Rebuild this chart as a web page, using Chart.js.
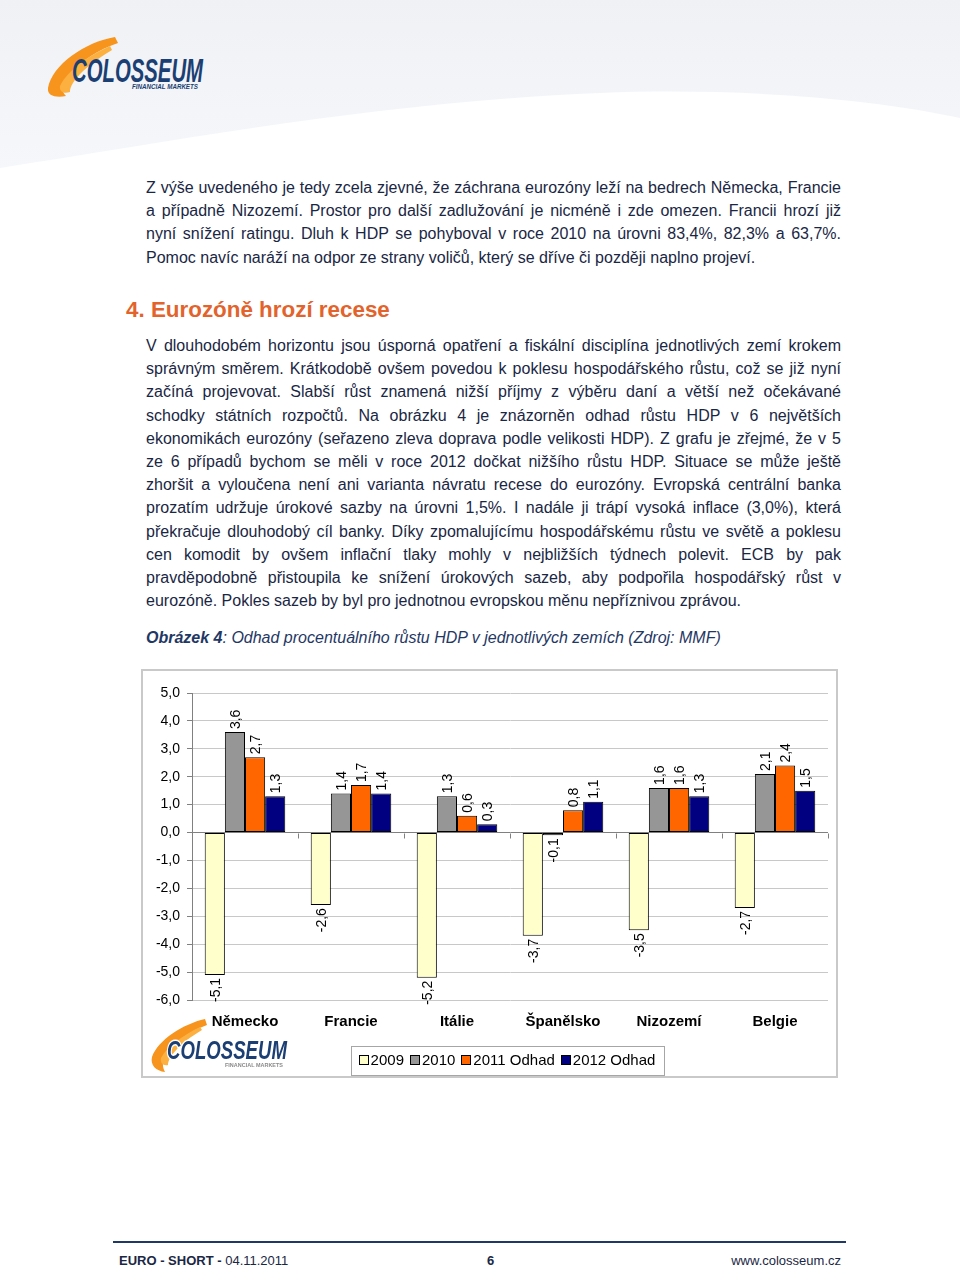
<!DOCTYPE html>
<html>
<head>
<meta charset="utf-8">
<script src="https://cdn.jsdelivr.net/npm/chart.js@4.4.0/dist/chart.umd.min.js"></script>
<style>
  html, body { margin: 0; padding: 0; }
  body { width: 960px; height: 1271px; position: relative; overflow: hidden; background: #fff;
         font-family: "Liberation Sans", Arial, sans-serif; color: #1a2744; }
  .abs { position: absolute; }
  .para { position: absolute; left: 146px; width: 695px; font-size: 16px; line-height: 23.2px; }
  .para div { text-align: justify; text-align-last: justify; white-space: nowrap; }
  .para div.last { text-align-last: left; }
  h2 { position: absolute; left: 126px; top: 297px; margin: 0; font-size: 22.4px; color: #e2632b; font-weight: bold; }
  .caption { position: absolute; left: 146px; top: 629px; font-size: 16px; font-style: italic; color: #1f3864; }
  #box { position: absolute; left: 141px; top: 669px; width: 697px; height: 409px; border: 2px solid #c9c9c9; box-sizing: border-box; }
  .footer { position: absolute; top: 1253px; font-size: 13px; line-height: 16px; color: #1a2744; }
</style>
</head>
<body>

<svg class="abs" style="left:0;top:0" width="960" height="180">
  <defs>
    <linearGradient id="bgGrad" x1="0" y1="0" x2="0" y2="1">
      <stop offset="0" stop-color="#eff1f5"/>
      <stop offset="1" stop-color="#f5f7fa"/>
    </linearGradient>
  </defs>
  <path d="M0,0 H960 V118 C860,96 720,88 600,93 C380,102 180,140 0,168 Z" fill="url(#bgGrad)"/>
</svg>

<!-- header logo -->
<svg class="abs" style="left:40px;top:30px" width="180" height="75">
  <path d="M75,7 C45,12 12,35 8,58 C7,66 16,68 26,66 C20,60 22,52 30,44 C42,30 58,20 78,13 Z" fill="#f7941d"/>
  <path d="M70,16 C48,26 28,40 20,56 C19,62 24,64 30,62 C30,52 45,36 72,20 Z" fill="#fbb040"/>
  <text x="32" y="52" font-family="Liberation Sans, Arial" font-size="33" font-weight="bold" font-style="italic"
        fill="#1c3f73" textLength="131" lengthAdjust="spacingAndGlyphs">COLOSSEUM</text>
  <text x="92" y="59" font-family="Liberation Sans, Arial" font-size="8" font-weight="bold" font-style="italic"
        fill="#1c3f73" textLength="66" lengthAdjust="spacingAndGlyphs">FINANCIAL MARKETS</text>
</svg>

<div class="para" style="top:176px">
  <div>Z výše uvedeného je tedy zcela zjevné, že záchrana eurozóny leží na bedrech Německa, Francie</div>
  <div>a případně Nizozemí. Prostor pro další zadlužování je nicméně i zde omezen. Francii hrozí již</div>
  <div>nyní snížení ratingu. Dluh k HDP se pohyboval v roce 2010 na úrovni 83,4%, 82,3% a 63,7%.</div>
  <div class="last">Pomoc navíc naráží na odpor ze strany voličů, který se dříve či později naplno projeví.</div>
</div>

<h2>4. Eurozóně hrozí recese</h2>

<div class="para" style="top:334px">
  <div>V dlouhodobém horizontu jsou úsporná opatření a fiskální disciplína jednotlivých zemí krokem</div>
  <div>správným směrem. Krátkodobě ovšem povedou k poklesu hospodářského růstu, což se již nyní</div>
  <div>začíná projevovat. Slabší růst znamená nižší příjmy z výběru daní a větší než očekávané</div>
  <div>schodky státních rozpočtů. Na obrázku 4 je znázorněn odhad růstu HDP v 6 největších</div>
  <div>ekonomikách eurozóny (seřazeno zleva doprava podle velikosti HDP). Z grafu je zřejmé, že v 5</div>
  <div>ze 6 případů bychom se měli v roce 2012 dočkat nižšího růstu HDP. Situace se může ještě</div>
  <div>zhoršit a vyloučena není ani varianta návratu recese do eurozóny. Evropská centrální banka</div>
  <div>prozatím udržuje úrokové sazby na úrovni 1,5%. I nadále ji trápí vysoká inflace (3,0%), která</div>
  <div>překračuje dlouhodobý cíl banky. Díky zpomalujícímu hospodářskému růstu ve světě a poklesu</div>
  <div>cen komodit by ovšem inflační tlaky mohly v nejbližších týdnech polevit. ECB by pak</div>
  <div>pravděpodobně přistoupila ke snížení úrokových sazeb, aby podpořila hospodářský růst v</div>
  <div class="last">eurozóně. Pokles sazeb by byl pro jednotnou evropskou měnu nepříznivou zprávou.</div>
</div>

<div class="caption"><b>Obrázek 4</b>: Odhad procentuálního růstu HDP v jednotlivých zemích (Zdroj: MMF)</div>

<div id="box">
  <canvas id="gdpChart" width="693" height="405"></canvas>
</div>

<!-- chart watermark logo -->
<svg class="abs" style="left:148px;top:1015px" width="145" height="62">
  <path d="M57,4 C35,9 10,25 4,42 C2,50 8,56 17,57 C13,50 15,42 21,36 C30,25 42,16 59,10 Z" fill="#f7941d"/>
  <path d="M52,12 C36,20 20,30 13,43 C12,48 15,51 20,50 C20,42 32,28 54,15 Z" fill="#fbb040"/>
  <text x="19" y="44" font-family="Liberation Sans, Arial" font-size="26" font-weight="bold" font-style="italic"
        fill="#1c3f73" stroke="#fff" stroke-width="3" paint-order="stroke"
        textLength="120" lengthAdjust="spacingAndGlyphs">COLOSSEUM</text>
  <text x="77" y="52" font-family="Liberation Sans, Arial" font-size="6" font-weight="bold"
        fill="#8a8a8a" textLength="58" lengthAdjust="spacingAndGlyphs">FINANCIAL MARKETS</text>
</svg>

<div class="abs" style="left:113px;top:1241px;width:733px;height:2px;background:#1f3864"></div>
<div class="footer" style="left:119px"><b>EURO - SHORT -</b> 04.11.2011</div>
<div class="footer" style="left:487px"><b>6</b></div>
<div class="footer" style="right:119px">www.colosseum.cz</div>

<script>
const countries = ['Německo', 'Francie', 'Itálie', 'Španělsko', 'Nizozemí', 'Belgie'];
const seriesNames = ['2009', '2010', '2011 Odhad', '2012 Odhad'];
const gdp2009 = [-5.1, -2.6, -5.2, -3.7, -3.5, -2.7];
const gdp2010 = [3.6, 1.4, 1.3, -0.1, 1.6, 2.1];
const gdp2011 = [2.7, 1.7, 0.6, 0.8, 1.6, 2.4];
const gdp2012 = [1.3, 1.4, 0.3, 1.1, 1.3, 1.5];
const yTicks = [5, 4, 3, 2, 1, 0, -1, -2, -3, -4, -5, -6];

const colors = ['#ffffcc', '#969696', '#ff6600', '#000080'];
const family = '"Liberation Sans", Arial, sans-serif';
const fmt = v => v.toFixed(1).replace('.', ',');

// rotated value labels, like Excel's 90° data labels
const valueLabels = {
  id: 'valueLabels',
  afterDatasetsDraw(chart) {
    const ctx = chart.ctx;
    ctx.save();
    ctx.font = '14px ' + family;
    ctx.fillStyle = '#000';
    ctx.textBaseline = 'middle';
    chart.data.datasets.forEach((ds, i) => {
      chart.getDatasetMeta(i).data.forEach((bar, j) => {
        const v = ds.data[j];
        ctx.save();
        ctx.translate(bar.x + 1, v >= 0 ? bar.y - 3 : bar.y + 3);
        ctx.rotate(-Math.PI / 2);
        ctx.textAlign = v >= 0 ? 'left' : 'right';
        ctx.fillText(fmt(v), 0, 0);
        ctx.restore();
      });
    });
    ctx.restore();
  }
};

// small tick marks on the zero line between categories
const zeroTicks = {
  id: 'zeroTicks',
  afterDatasetsDraw(chart) {
    const ctx = chart.ctx, xs = chart.scales.x;
    const y0 = Math.round(chart.scales.y.getPixelForValue(0)) + 0.5;
    const w = (xs.right - xs.left) / countries.length;
    ctx.save();
    ctx.strokeStyle = '#808080';
    ctx.lineWidth = 1;
    ctx.beginPath();
    for (let i = 1; i <= countries.length; i++) {
      const px = Math.round(xs.left + i * w) + 0.5;
      ctx.moveTo(px, y0);
      ctx.lineTo(px, y0 + 5);
    }
    ctx.stroke();
    ctx.restore();
  }
};

// legend in a framed box under the category labels
const boxLegend = {
  id: 'boxLegend',
  afterDraw(chart) {
    const ctx = chart.ctx;
    ctx.save();
    ctx.font = '15px ' + family;
    const items = chart.data.datasets.map(ds => ({ text: ds.label, color: ds.backgroundColor, w: ctx.measureText(ds.label).width }));
    const total = items.reduce((s, it) => s + 12 + it.w, 0) + 6 * (items.length - 1);
    const cx = (chart.chartArea.left + chart.chartArea.right) / 2 - 3;
    const cy = chart.height - 16;
    let x = cx - total / 2;
    ctx.strokeStyle = '#a6a6a6';
    ctx.lineWidth = 1;
    ctx.strokeRect(Math.round(x - 8) + 0.5, Math.round(cy - 14) + 0.5, Math.round(total + 16), 29);
    ctx.textBaseline = 'middle';
    ctx.textAlign = 'left';
    items.forEach(it => {
      ctx.fillStyle = it.color;
      ctx.fillRect(Math.round(x), Math.round(cy - 5), 9, 9);
      ctx.strokeStyle = '#000';
      ctx.strokeRect(Math.round(x) + 0.5, Math.round(cy - 5) + 0.5, 9, 9);
      ctx.fillStyle = '#000';
      ctx.fillText(it.text, x + 12, cy + 1);
      x += 12 + it.w + 6;
    });
    ctx.restore();
  }
};

new Chart(document.getElementById('gdpChart'), {
  type: 'bar',
  data: {
    labels: countries,
    datasets: [gdp2009, gdp2010, gdp2011, gdp2012].map((d, i) => ({
      label: seriesNames[i],
      data: d,
      backgroundColor: colors[i],
      borderColor: '#000',
      borderWidth: 1,
      borderSkipped: false,
      categoryPercentage: 0.76,
      barPercentage: 1.0
    }))
  },
  options: {
    responsive: false,
    animation: false,
    layout: { padding: { top: 22, right: 8, bottom: 32, left: 0 } },
    plugins: {
      legend: { display: false },
      tooltip: { enabled: false }
    },
    scales: {
      x: {
        grid: { display: false, drawTicks: false },
        border: { display: false },
        ticks: { color: '#000', font: { family: family, size: 15, weight: 'bold' }, padding: 13, maxRotation: 0 }
      },
      y: {
        min: Math.min(...yTicks),
        max: Math.max(...yTicks),
        afterBuildTicks: s => { s.ticks = yTicks.map(v => ({ value: v })); },
        afterFit: s => { s.width = 49; },
        ticks: { color: '#000', font: { family: family, size: 14 }, padding: 7, callback: v => fmt(v) },
        grid: {
          color: c => (c.tick && c.tick.value === 0 ? '#808080' : '#c8c8c8'),
          tickLength: 5,
          tickColor: '#808080'
        },
        border: { color: '#808080' }
      }
    }
  },
  plugins: [zeroTicks, valueLabels, boxLegend]
});
</script>
</body>
</html>
